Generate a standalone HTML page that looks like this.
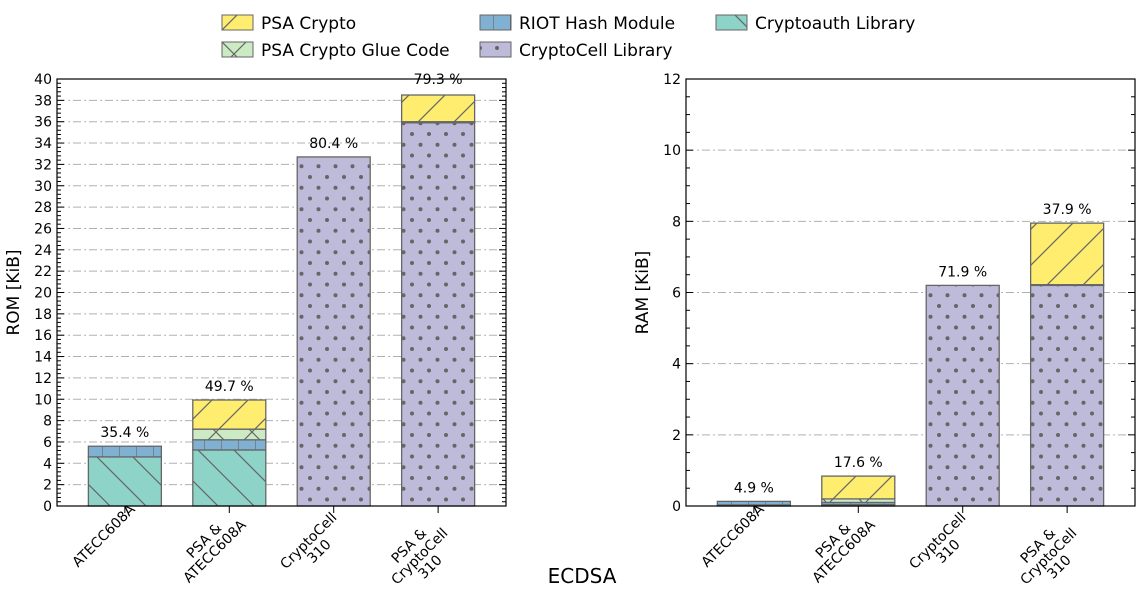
<!DOCTYPE html>
<html><head><meta charset="utf-8"><style>
body{margin:0;background:#fff}
svg{display:block;font-family:"DejaVu Sans","Liberation Sans",sans-serif}
</style></head><body>
<svg id="c" width="1145" height="607" viewBox="0 0 1145 607">
<defs>
<pattern id="p-psa" patternUnits="userSpaceOnUse" width="36" height="36"><rect width="36" height="36" fill="#ffed6f"/><path d="M0,36 L36,0 M-9,9 L9,-9 M27,45 L45,27" stroke="#666" stroke-width="1.2"/></pattern>
<pattern id="p-glue" patternUnits="userSpaceOnUse" width="36" height="36"><rect width="36" height="36" fill="#ccebc5"/><path d="M0,36 L36,0 M0,0 L36,36" stroke="#666" stroke-width="1.2"/></pattern>
<pattern id="p-riot" patternUnits="userSpaceOnUse" width="17" height="17"><rect width="17" height="17" fill="#80b1d3"/><path d="M0,0 L0,17" stroke="#666" stroke-width="1.2"/></pattern>
<pattern id="p-cc" patternUnits="userSpaceOnUse" width="17" height="21.5"><rect width="17" height="21.5" fill="#bebada"/><circle cx="4" cy="5" r="2" fill="#666"/><circle cx="12.5" cy="15.7" r="2" fill="#666"/></pattern>
<pattern id="p-ca" patternUnits="userSpaceOnUse" width="36" height="36"><rect width="36" height="36" fill="#8dd3c7"/><path d="M0,0 L36,36 M-9,27 L9,45 M27,-9 L45,9" stroke="#666" stroke-width="1.2"/></pattern>
</defs>
<g id="legend"></g>
<g id="left"></g>
<g id="right"></g>
<text x="582" y="583" font-size="20" text-anchor="middle">ECDSA</text>
</svg>
<script>
const categories=[["ATECC608A"],["PSA &","ATECC608A"],["CryptoCell","310"],["PSA &","CryptoCell","310"]];
const seriesNames=["Cryptoauth Library","RIOT Hash Module","CryptoCell Library","PSA Crypto Glue Code","PSA Crypto"];
const romCryptoauth=[4.6,5.25,0,0];
const romRiot=[1.0,0.95,0,0];
const romCryptocell=[0,0,32.7,35.9];
const romGlue=[0,1.0,0,0.1];
const romPsa=[0,2.73,0,2.5];
const romLabels=["35.4 %","49.7 %","80.4 %","79.3 %"];
const ramCryptoauth=[0.03,0.04,0,0];
const ramRiot=[0.1,0.06,0,0];
const ramCryptocell=[0,0,6.2,6.2];
const ramGlue=[0,0.1,0,0.02];
const ramPsa=[0,0.64,0,1.73];
const ramLabels=["4.9 %","17.6 %","71.9 %","37.9 %"];
const fills=["url(#p-ca)","url(#p-riot)","url(#p-cc)","url(#p-glue)","url(#p-psa)"];
const NS="http://www.w3.org/2000/svg";
function mk(p,t,a,txt){const e=document.createElementNS(NS,t);for(const k in a)e.setAttribute(k,a[k]);if(txt!==undefined)e.textContent=txt;p.appendChild(e);return e;}
function panel(g,x0,x1,y0,y1,ymax,major,minor,series,labels,ytitle,name){
  const ys=v=>y0-(v/ymax)*(y0-y1);
  const w=x1-x0, step=w/4.3, bw=73;
  const xc=i=>x0+step*0.65+i*step;
  for(let v=major;v<ymax+1e-9;v+=major){const l=mk(g,'line',{x1:x0,x2:x1,y1:ys(v),y2:ys(v),stroke:'#b0b0b0','stroke-dasharray':'8,3,2,3','stroke-width':1});
    }
  categories.forEach((c,i)=>{let base=0;
    series.forEach((s,k)=>{const v=s[i];if(v<=0)return;const r=mk(g,'rect',{x:xc(i)-bw/2,y:ys(base+v),width:bw,height:ys(base)-ys(base+v),fill:fills[k],stroke:'#666','stroke-width':1.3});
      base+=v;});
    const t=mk(g,'text',{x:xc(i),y:ys(base)-9,'font-size':14,'text-anchor':'middle'},labels[i]);
    
    if(ys(base)-9<y1+8){t.setAttribute('y',y1+5);const b=mk(g,'rect',{x:xc(i)-34,y:y1-7,width:68,height:14,fill:'#fff'});g.insertBefore(b,t);}
    const tk=mk(g,'line',{x1:xc(i),x2:xc(i),y1:y0,y2:y0+7,stroke:'#000'});
    const lab=mk(g,'text',{'font-size':14,'text-anchor':'end'});
    
    c.forEach((ln,j)=>{mk(lab,'tspan',{x:0,dy:j?15:0,'text-anchor':'middle'},ln);});
    const n=c.length;lab.setAttribute('transform',`translate(${xc(i)-14-n*4},${y0+28+n*5}) rotate(-45)`);
  });
  mk(g,'rect',{x:x0,y:y1,width:w,height:y0-y1,fill:'none',stroke:'#000','stroke-width':1.2});
  for(let v=0;v<=ymax+1e-9;v+=minor){const isM=Math.abs(v/major-Math.round(v/major))<1e-6;const L=isM?7:4;
    mk(g,'line',{x1:x0,x2:x0+L,y1:ys(v),y2:ys(v),stroke:'#000'});mk(g,'line',{x1:x1,x2:x1-L,y1:ys(v),y2:ys(v),stroke:'#000'});
    if(isM){const t=mk(g,'text',{x:x0-5,y:ys(v)+5,'font-size':14,'text-anchor':'end'},String(Math.round(v)));}}
  const yt=mk(g,'text',{'font-size':17,'text-anchor':'middle',transform:`translate(${x0-38},${(y0+y1)/2}) rotate(-90)`},ytitle);
  
}
panel(document.getElementById('left'),57,506,506,79,40,2,0.4,[romCryptoauth,romRiot,romCryptocell,romGlue,romPsa],romLabels,'ROM [KiB]','rom');
panel(document.getElementById('right'),686,1135,506,79,12,2,0.5,[ramCryptoauth,ramRiot,ramCryptocell,ramGlue,ramPsa],ramLabels,'RAM [KiB]','ram');
const lg=document.getElementById('legend');
const items=[[222,15,'PSA Crypto',4],[222,42,'PSA Crypto Glue Code',3],[480,15,'RIOT Hash Module',1],[480,42,'CryptoCell Library',2],[716,15,'Cryptoauth Library',0]];
items.forEach(([x,y,t,k])=>{const r=mk(lg,'rect',{x:x,y:y,width:31,height:15,fill:fills[k],stroke:'#666'});
  
  const tx=mk(lg,'text',{x:x+39,y:y+14,'font-size':17},t);});
</script>
</body></html>
